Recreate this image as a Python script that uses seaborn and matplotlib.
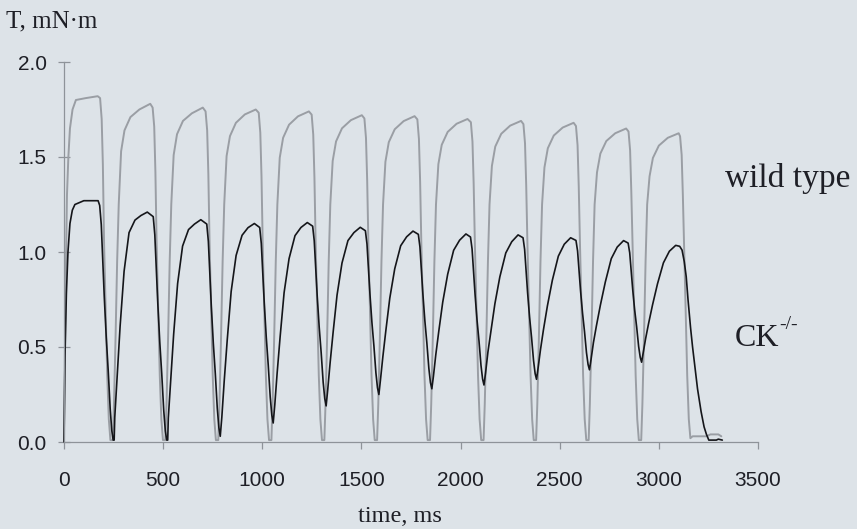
import matplotlib
matplotlib.use("Agg")
import matplotlib.pyplot as plt
import seaborn as sns
import pandas as pd

# ---------------- data ----------------
wt_time_ms = [
    0, 8, 15, 22, 30, 43, 60, 110, 170, 182, 190, 196, 202, 210, 218, 226, 234, 246,
    252, 260, 268, 276, 288, 305, 335, 380, 435, 447, 455, 461, 467, 475, 483, 491, 499, 511,
    517, 525, 533, 541, 553, 570, 600, 645, 700, 714, 722, 728, 734, 742, 750, 758, 766, 778,
    784, 792, 800, 808, 820, 837, 867, 912, 967, 982, 990, 996, 1002, 1010, 1018, 1026, 1034, 1046,
    1052, 1060, 1068, 1076, 1088, 1105, 1135, 1180, 1235, 1249, 1257, 1263, 1269, 1277, 1285, 1293, 1301, 1313,
    1319, 1327, 1335, 1343, 1355, 1372, 1402, 1447, 1502, 1515, 1523, 1529, 1535, 1543, 1551, 1559, 1567, 1579,
    1585, 1593, 1601, 1609, 1621, 1638, 1668, 1713, 1768, 1782, 1790, 1796, 1802, 1810, 1818, 1826, 1834, 1846,
    1852, 1860, 1868, 1876, 1888, 1905, 1935, 1980, 2035, 2052, 2060, 2066, 2072, 2080, 2088, 2096, 2104, 2116,
    2122, 2130, 2138, 2146, 2158, 2175, 2205, 2250, 2305, 2317, 2325, 2331, 2337, 2345, 2353, 2361, 2369, 2381,
    2387, 2395, 2403, 2411, 2423, 2440, 2470, 2515, 2570, 2582, 2590, 2596, 2602, 2610, 2618, 2626, 2634, 2646,
    2652, 2660, 2668, 2676, 2688, 2705, 2735, 2780, 2835, 2847, 2855, 2861, 2867, 2875, 2883, 2891, 2899, 2911,
    2917, 2925, 2933, 2941, 2953, 2970, 3000, 3045, 3100, 3107, 3115, 3121, 3127, 3135, 3143, 3151, 3159,
    3170, 3240, 3260, 3300, 3315,
]
wt_torque = [
    0.0, 0.8, 1.3, 1.5, 1.65, 1.75, 1.80, 1.81, 1.82, 1.81, 1.70, 1.46, 1.05, 0.70, 0.35, 0.12, 0.01, 0.01,
    0.2, 0.55, 0.95, 1.25, 1.53, 1.64, 1.71, 1.75, 1.78, 1.76, 1.66, 1.42, 1.05, 0.7, 0.35, 0.12, 0.01, 0.01,
    0.2, 0.55, 0.95, 1.25, 1.51, 1.62, 1.69, 1.73, 1.76, 1.74, 1.64, 1.41, 1.05, 0.7, 0.35, 0.12, 0.01, 0.01,
    0.2, 0.55, 0.95, 1.25, 1.505, 1.61, 1.68, 1.724, 1.75, 1.733, 1.628, 1.40, 1.05, 0.7, 0.35, 0.12, 0.01, 0.01,
    0.2, 0.55, 0.95, 1.25, 1.496, 1.601, 1.670, 1.714, 1.74, 1.723, 1.618, 1.392, 1.05, 0.7, 0.35, 0.12, 0.01, 0.01,
    0.2, 0.55, 0.95, 1.25, 1.479, 1.582, 1.651, 1.694, 1.72, 1.703, 1.60, 1.376, 1.05, 0.7, 0.35, 0.12, 0.01, 0.01,
    0.2, 0.55, 0.95, 1.25, 1.475, 1.578, 1.646, 1.689, 1.715, 1.698, 1.595, 1.372, 1.05, 0.7, 0.35, 0.12, 0.01, 0.01,
    0.2, 0.55, 0.95, 1.25, 1.462, 1.564, 1.632, 1.675, 1.70, 1.683, 1.581, 1.36, 1.05, 0.7, 0.35, 0.12, 0.01, 0.01,
    0.2, 0.55, 0.95, 1.25, 1.453, 1.555, 1.622, 1.665, 1.69, 1.673, 1.572, 1.352, 1.05, 0.7, 0.35, 0.12, 0.01, 0.01,
    0.2, 0.55, 0.95, 1.25, 1.445, 1.546, 1.613, 1.655, 1.68, 1.663, 1.562, 1.344, 1.05, 0.7, 0.35, 0.12, 0.01, 0.01,
    0.2, 0.55, 0.95, 1.25, 1.419, 1.518, 1.584, 1.625, 1.65, 1.634, 1.535, 1.32, 1.05, 0.7, 0.35, 0.12, 0.01, 0.01,
    0.2, 0.55, 0.95, 1.25, 1.398, 1.495, 1.56, 1.601, 1.625, 1.609, 1.511, 1.30, 1.05, 0.7, 0.35, 0.12, 0.02,
    0.03, 0.03, 0.04, 0.04, 0.03,
]

ko_time_ms = [
    0, 5, 12, 20, 30, 42, 55, 100, 172, 180, 188, 196, 203, 213, 223, 233, 241, 248, 253,
    256, 268, 283, 303, 328, 358, 388, 420, 450, 458, 466, 473, 483, 493, 503, 511, 518, 523,
    526, 538, 553, 573, 598, 628, 658, 690, 720, 728, 736, 743, 753, 763, 773, 781, 788,
    796, 808, 823, 843, 868, 898, 928, 960, 987, 995, 1003, 1010, 1020, 1030, 1040, 1048, 1055,
    1063, 1075, 1090, 1110, 1135, 1165, 1195, 1227, 1254, 1262, 1270, 1277, 1287, 1297, 1307, 1315, 1322,
    1330, 1342, 1357, 1377, 1402, 1432, 1462, 1494, 1520, 1528, 1536, 1543, 1553, 1563, 1573, 1581, 1588,
    1596, 1608, 1623, 1643, 1668, 1698, 1728, 1760, 1787, 1795, 1803, 1810, 1820, 1830, 1840, 1848, 1855,
    1863, 1875, 1890, 1910, 1935, 1965, 1995, 2027, 2050, 2058, 2066, 2073, 2083, 2093, 2103, 2111, 2118,
    2126, 2138, 2153, 2173, 2198, 2228, 2258, 2290, 2315, 2323, 2331, 2338, 2348, 2358, 2368, 2376, 2383,
    2391, 2403, 2418, 2438, 2463, 2493, 2523, 2555, 2582, 2590, 2598, 2605, 2615, 2625, 2635, 2643, 2650,
    2658, 2670, 2685, 2705, 2730, 2760, 2790, 2822, 2845, 2853, 2861, 2868, 2878, 2888, 2898, 2906, 2913,
    2921, 2933, 2948, 2968, 2993, 3023, 3053, 3085, 3105, 3117, 3128, 3138, 3147, 3160, 3170, 3180, 3195,
    3213, 3228, 3240, 3252, 3290, 3300, 3320,
]
ko_torque = [
    0.0, 0.45, 0.78, 1.0, 1.15, 1.22, 1.25, 1.27, 1.27, 1.245, 1.144, 0.942, 0.766, 0.552, 0.375, 0.174, 0.06, 0.01, 0.01,
    0.13, 0.346, 0.61, 0.898, 1.102, 1.168, 1.192, 1.21, 1.186, 1.09, 0.898, 0.73, 0.526, 0.358, 0.166, 0.058, 0.01, 0.01,
    0.126, 0.323, 0.567, 0.834, 1.031, 1.118, 1.147, 1.17, 1.147, 1.056, 0.874, 0.714, 0.52, 0.361, 0.178, 0.076, 0.03,
    0.131, 0.321, 0.534, 0.792, 0.982, 1.088, 1.128, 1.15, 1.129, 1.045, 0.877, 0.73, 0.552, 0.405, 0.237, 0.142, 0.10,
    0.195, 0.364, 0.554, 0.786, 0.965, 1.086, 1.129, 1.155, 1.136, 1.059, 0.904, 0.769, 0.605, 0.47, 0.315, 0.229, 0.19,
    0.275, 0.416, 0.575, 0.773, 0.942, 1.06, 1.102, 1.13, 1.112, 1.042, 0.901, 0.778, 0.628, 0.505, 0.364, 0.285, 0.25,
    0.327, 0.448, 0.585, 0.757, 0.912, 1.033, 1.08, 1.11, 1.093, 1.027, 0.894, 0.778, 0.637, 0.521, 0.388, 0.313, 0.28,
    0.345, 0.459, 0.582, 0.736, 0.883, 1.009, 1.062, 1.095, 1.079, 1.016, 0.888, 0.777, 0.642, 0.531, 0.403, 0.332, 0.30,
    0.363, 0.474, 0.584, 0.727, 0.869, 0.995, 1.054, 1.09, 1.075, 1.014, 0.892, 0.786, 0.657, 0.55, 0.429, 0.36, 0.33,
    0.39, 0.486, 0.591, 0.717, 0.852, 0.978, 1.041, 1.075, 1.061, 1.006, 0.894, 0.797, 0.679, 0.582, 0.47, 0.408, 0.38,
    0.434, 0.523, 0.611, 0.72, 0.842, 0.965, 1.026, 1.06, 1.047, 0.996, 0.894, 0.804, 0.695, 0.606, 0.503, 0.446, 0.42,
    0.469, 0.543, 0.623, 0.721, 0.832, 0.943, 1.004, 1.035, 1.03, 1.01, 0.95, 0.87, 0.75, 0.6, 0.5, 0.41, 0.28,
    0.16, 0.08, 0.04, 0.01, 0.01, 0.015, 0.01,
]

x_ticks = [0, 500, 1000, 1500, 2000, 2500, 3000, 3500]
y_ticks = [0.0, 0.5, 1.0, 1.5, 2.0]
y_tick_labels = ["0.0", "0.5", "1.0", "1.5", "2.0"]

# ---------------- style ----------------
BG = "#dde3e8"
AXIS_C = "#8e9399"
TEXT_C = "#1e1f26"
WT_C = "#9a9ea4"
KO_C = "#15161a"

sns.set_theme(style="ticks")
plt.rcParams["font.family"] = ["Liberation Sans", "DejaVu Sans"]

W, H = 857, 529
fig = plt.figure(figsize=(W / 100, H / 100), dpi=100)
fig.patch.set_facecolor(BG)
ax = fig.add_axes([64 / W, 87 / H, 694 / W, 380 / H])
ax.set_facecolor(BG)

wt_df = pd.DataFrame({"time": wt_time_ms, "T": wt_torque})
ko_df = pd.DataFrame({"time": ko_time_ms, "T": ko_torque})

sns.lineplot(data=wt_df, x="time", y="T", ax=ax, color=WT_C, linewidth=1.4,
             estimator=None, sort=False)
sns.lineplot(data=ko_df, x="time", y="T", ax=ax, color=KO_C, linewidth=1.2,
             estimator=None, sort=False)
for ln in ax.lines:
    ln.set_clip_on(False)

ax.set_xlim(0, 3500)
ax.set_ylim(0, 2.0)
ax.set_xticks(x_ticks)
ax.set_xticklabels([str(v) for v in x_ticks])
ax.set_yticks(y_ticks)
ax.set_yticklabels(y_tick_labels)
ax.set_xlabel("")
ax.set_ylabel("")

for s in ["top", "right"]:
    ax.spines[s].set_visible(False)
for s in ["left", "bottom"]:
    ax.spines[s].set_color(AXIS_C)
    ax.spines[s].set_linewidth(0.9)

ax.tick_params(axis="y", direction="inout", length=9, width=0.9, color=AXIS_C,
               labelsize=15, labelcolor=TEXT_C, pad=8)
ax.tick_params(axis="x", direction="out", length=5, width=0.9, color=AXIS_C,
               labelsize=15, labelcolor=TEXT_C, pad=16)

serif = ["Liberation Serif", "DejaVu Serif"]

def px(x, y):
    return x / W, 1 - y / H

fig.text(*px(6, 27), "T, mN\u00b7m", family=serif, fontsize=18, color=TEXT_C,
         ha="left", va="baseline")
fig.text(*px(400, 522), "time, ms", family=serif, fontsize=17.5, color=TEXT_C,
         ha="center", va="baseline")
fig.text(*px(725, 187), "wild type", family=serif, fontsize=24, color=TEXT_C,
         ha="left", va="baseline")
fig.text(*px(735, 346), "CK", family=serif, fontsize=23, color=TEXT_C,
         ha="left", va="baseline")
fig.text(*px(779, 329), "-/-", family=serif, fontsize=14, color=TEXT_C,
         ha="left", va="baseline")

fig.savefig("out.png", dpi=100, facecolor=BG)
